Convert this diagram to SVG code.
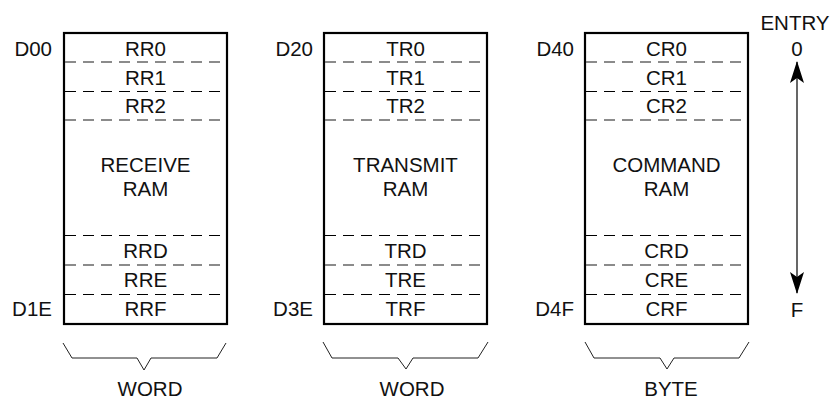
<svg xmlns="http://www.w3.org/2000/svg" width="839" height="399" viewBox="0 0 839 399">
<defs>
<style>
text{font-family:"Liberation Sans",Arial,sans-serif;font-size:20.5px;fill:#111}
.c{text-anchor:middle}
.r{text-anchor:end}
.box{fill:#fff;stroke:#000;stroke-width:2.2}
.dk{stroke:#000;stroke-width:1;stroke-dasharray:11 7}
.gy{stroke:#666;stroke-width:1.4;stroke-dasharray:11 7}
.brace{fill:none;stroke:#222;stroke-width:1}
.arr{stroke:#000;stroke-width:1.2}
</style>
<marker id="ah" viewBox="0 0 22 14" refX="21" refY="7" markerWidth="22" markerHeight="14" markerUnits="userSpaceOnUse" orient="auto-start-reverse">
<path d="M22 7 L0 0 L5 7 L0 14 Z" fill="#000"/>
</marker>
</defs>
<g id="receive-ram">
<rect class="box" x="64" y="33" width="163" height="291"/>
<line class="gy" x1="65" y1="62" x2="226" y2="62"/>
<line class="dk" x1="65" y1="91.5" x2="226" y2="91.5"/>
<line class="gy" x1="65" y1="120" x2="226" y2="120"/>
<line class="dk" x1="65" y1="235.5" x2="226" y2="235.5"/>
<line class="gy" x1="65" y1="265" x2="226" y2="265"/>
<line class="dk" x1="65" y1="294.5" x2="226" y2="294.5"/>
<text class="c" x="145.5" y="56">RR0</text>
<text class="c" x="145.5" y="85">RR1</text>
<text class="c" x="145.5" y="113">RR2</text>
<text class="c" x="145.5" y="172">RECEIVE</text>
<text class="c" x="145.5" y="196">RAM</text>
<text class="c" x="145.5" y="258">RRD</text>
<text class="c" x="145.5" y="287">RRE</text>
<text class="c" x="145.5" y="316">RRF</text>
<text class="r" x="52" y="56">D00</text>
<text class="r" x="52" y="316">D1E</text>
</g>
<g id="transmit-ram">
<rect class="box" x="324" y="33" width="163" height="291"/>
<line class="gy" x1="325" y1="62" x2="486" y2="62"/>
<line class="dk" x1="325" y1="91.5" x2="486" y2="91.5"/>
<line class="gy" x1="325" y1="120" x2="486" y2="120"/>
<line class="dk" x1="325" y1="235.5" x2="486" y2="235.5"/>
<line class="gy" x1="325" y1="265" x2="486" y2="265"/>
<line class="dk" x1="325" y1="294.5" x2="486" y2="294.5"/>
<text class="c" x="405.5" y="56">TR0</text>
<text class="c" x="405.5" y="85">TR1</text>
<text class="c" x="405.5" y="113">TR2</text>
<text class="c" x="405.5" y="172">TRANSMIT</text>
<text class="c" x="405.5" y="196">RAM</text>
<text class="c" x="405.5" y="258">TRD</text>
<text class="c" x="405.5" y="287">TRE</text>
<text class="c" x="405.5" y="316">TRF</text>
<text class="r" x="313" y="56">D20</text>
<text class="r" x="313" y="316">D3E</text>
</g>
<g id="command-ram">
<rect class="box" x="585" y="33" width="163" height="291"/>
<line class="gy" x1="586" y1="62" x2="747" y2="62"/>
<line class="dk" x1="586" y1="91.5" x2="747" y2="91.5"/>
<line class="gy" x1="586" y1="120" x2="747" y2="120"/>
<line class="dk" x1="586" y1="235.5" x2="747" y2="235.5"/>
<line class="gy" x1="586" y1="265" x2="747" y2="265"/>
<line class="dk" x1="586" y1="294.5" x2="747" y2="294.5"/>
<text class="c" x="666.5" y="56">CR0</text>
<text class="c" x="666.5" y="85">CR1</text>
<text class="c" x="666.5" y="113">CR2</text>
<text class="c" x="666.5" y="172">COMMAND</text>
<text class="c" x="666.5" y="196">RAM</text>
<text class="c" x="666.5" y="258">CRD</text>
<text class="c" x="666.5" y="287">CRE</text>
<text class="c" x="666.5" y="316">CRF</text>
<text class="r" x="574" y="56">D40</text>
<text class="r" x="574" y="316">D4F</text>
</g>
<g id="entry-axis">
<text class="c" x="795" y="30">ENTRY</text>
<text class="c" x="797" y="56">0</text>
<text class="c" x="797" y="317">F</text>
</g>
<g id="connectors">
<line class="arr" x1="797" y1="62" x2="797" y2="293" marker-start="url(#ah)" marker-end="url(#ah)"/>
<path class="brace" d="M63 343 L72 358 L137 358 L144 370 L151 358 L217 358 L226 343"/>
<path class="brace" d="M323 342 L332 358 L398 358 L406 369 L413 358 L478 358 L488 342"/>
<path class="brace" d="M585 342 L594 358 L660 358 L667 369 L674 358 L739 358 L749 342"/>
</g>
<g id="labels">
<text class="c" x="150" y="396">WORD</text>
<text class="c" x="412" y="396">WORD</text>
<text class="c" x="671" y="396">BYTE</text>
</g>
</svg>
